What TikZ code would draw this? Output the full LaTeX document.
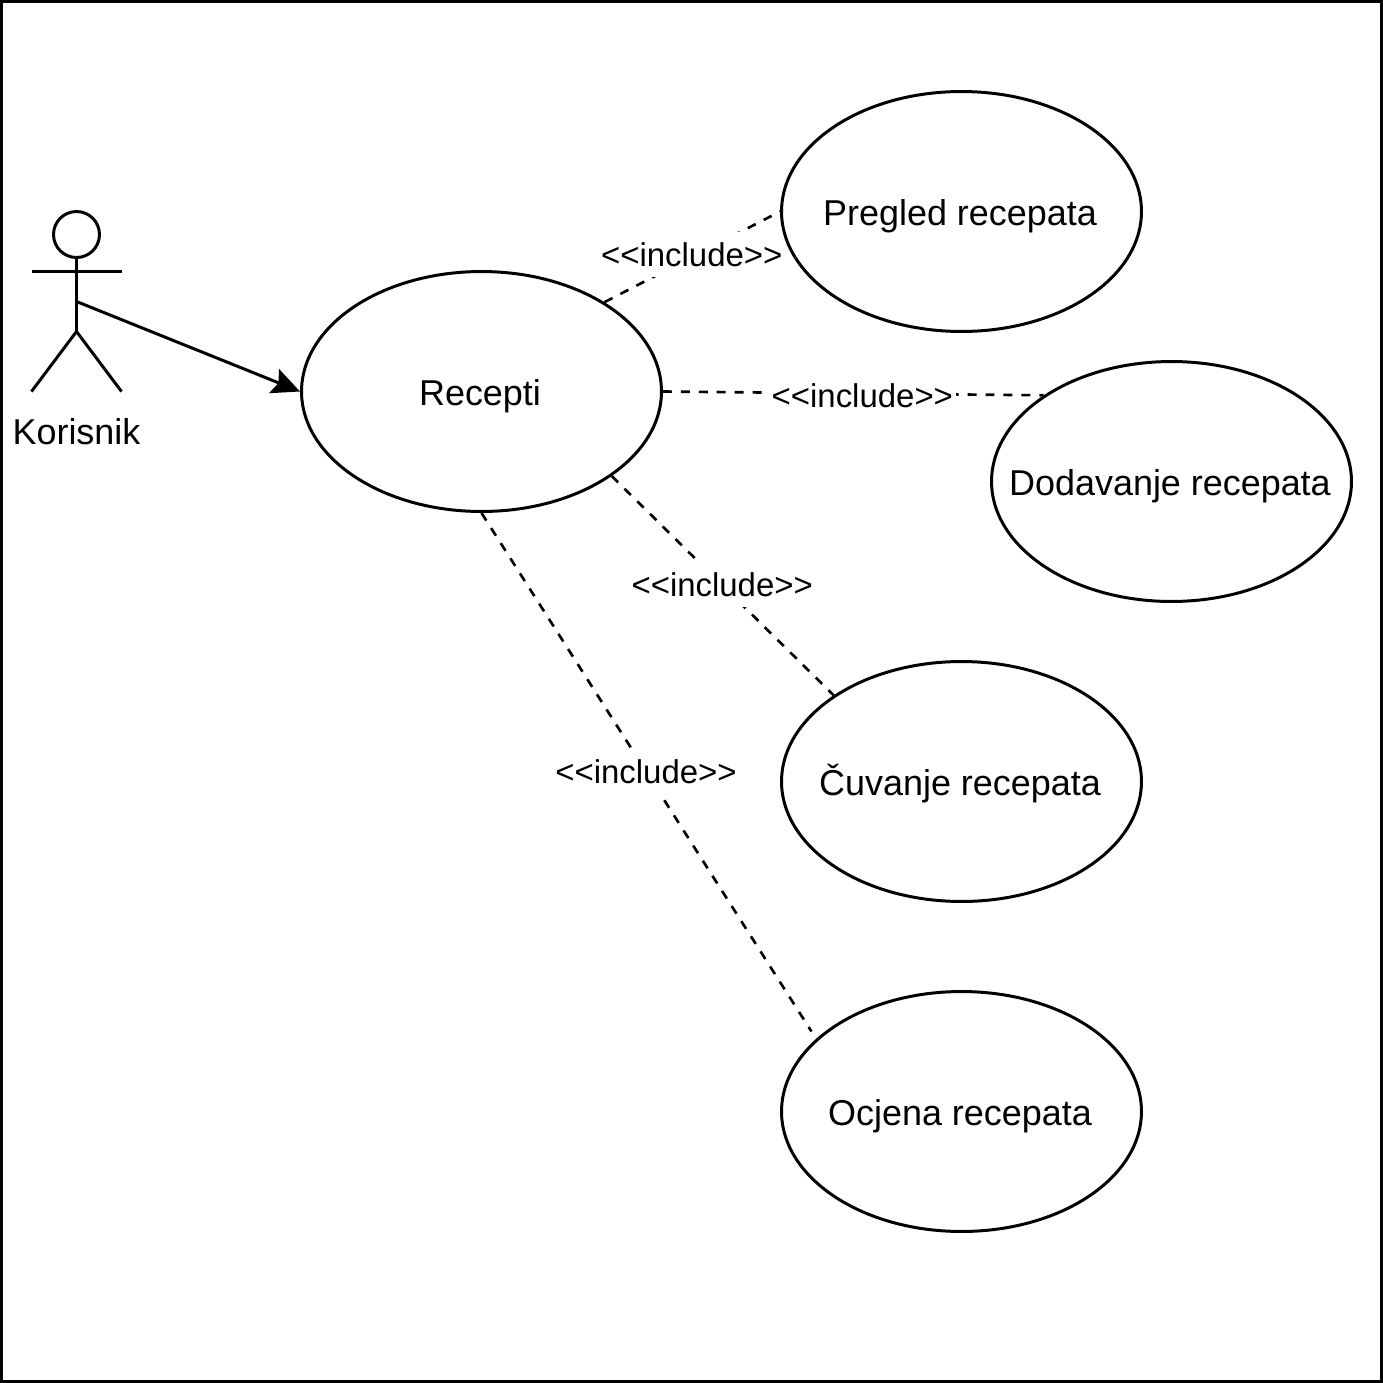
\documentclass[tikz,border=0pt]{standalone}
\usepackage{fontspec}
\setmainfont{Liberation Sans}
\usetikzlibrary{shapes.geometric, arrows.meta, backgrounds}
\newcommand{\inclabel}{<{}<include>{}>}
\tikzset{
	usecase/.style={draw, ellipse, line width=1.7pt, minimum width=7.2cm, minimum height=4.8cm, inner sep=0pt},
	casetext/.style={font=\fontsize{20.45}{24}\selectfont, inner sep=0pt, text height=0.68cm, text depth=0.14cm, xshift=-0.03cm},
	actorline/.style={line width=1.7pt},
	includeline/.style={line width=1.5pt, dash pattern=on 5.1pt off 5.1pt},
	includelabel/.style={fill=white, inner xsep=0.06cm, inner ysep=0pt, minimum height=0.9cm, xshift=-0.01cm, yshift=0.02cm, font=\fontsize{18.75}{22}\selectfont},
}
\begin{document}
\begin{tikzpicture}[x=0.02cm, y=-0.02cm]
	\useasboundingbox (0,0) rectangle (1383,1383);
	\draw[line width=1.7pt] (1.5,1.5) rectangle (1381.5,1381.5);

	%% Akter
	\node[draw, circle, line width=1.7pt, minimum size=0.92cm, inner sep=0pt] (head) at (76.5,234.5) {};
	\coordinate (hip) at (76.5,331.5);
	\coordinate (waist) at (76.5,301.5);
	\coordinate (armleft) at (31.5,271.5);
	\coordinate (armright) at (121.5,271.5);
	\coordinate (footleft) at (31.5,391.5);
	\coordinate (footright) at (121.5,391.5);
	\draw[actorline] (head.south) -- (hip);
	\draw[actorline] (armleft) -- (armright);
	\draw[actorline] (footleft) -- (hip) -- (footright);
	\node[font=\fontsize{20.45}{24}\selectfont] (korisnik) at (76.5,432) {Korisnik};

	%% Slucajevi koristenja
	\node[usecase, label={[casetext]center:Recepti}] (recepti) at (481.5,391.5) {};
	\node[usecase, label={[casetext]center:Pregled recepata}] (pregled) at (961.5,211.5) {};
	\node[usecase, label={[casetext]center:Dodavanje recepata}] (dodavanje) at (1171.5,481.5) {};
	\node[usecase, label={[casetext]center:Čuvanje recepata}] (cuvanje) at (961.5,781.5) {};
	\node[usecase, label={[casetext]center:Ocjena recepata}] (ocjena) at (961.5,1111.5) {};
	\coordinate (ocjenaend) at (811.5,1031.5);

	%% Veze
	\draw[actorline, -{Stealth[length=0.56cm, width=0.52cm, inset=0.1cm]}] (waist) -- (recepti.west);
\begin{scope}[on background layer]
	\draw[includeline] (recepti.36.87) -- (pregled.west)
	node[midway, includelabel, yshift=0.03cm] (incpregled) {\inclabel};
	\draw[includeline] (recepti.east) -- (dodavanje.146.8)
	node[pos=0.525, includelabel, yshift=-0.06cm] (incdodavanje) {\inclabel};
	\draw[includeline] (recepti.-33.2) -- (cuvanje.146)
	node[midway, includelabel] (inccuvanje) {\inclabel};
	\draw[includeline] (recepti.south) -- (ocjenaend)
	node[midway, includelabel] (incocjena) {\inclabel};
\end{scope}
\end{tikzpicture}
\end{document}
